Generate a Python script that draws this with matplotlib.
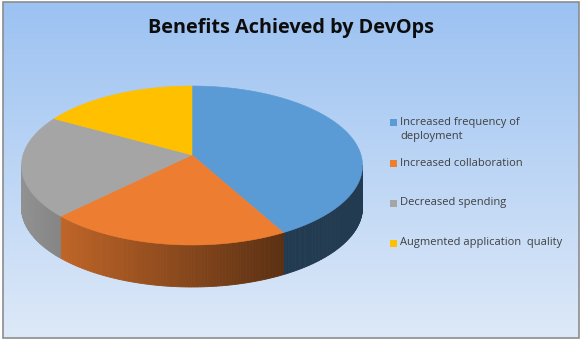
import matplotlib
matplotlib.use("Agg")
import matplotlib.pyplot as plt
import numpy as np
from matplotlib.patches import Polygon, Rectangle
from matplotlib.colors import to_rgb

# data (percent shares)
labels = ["Increased frequency of", "Increased collaboration",
          "Decreased spending", "Augmented application  quality"]
label_extra = ["deployment", "", "", ""]
values = [41, 23, 21, 15]
colors = ["#5B9BD5", "#ED7D31", "#A5A5A5", "#FFC000"]
title = "Benefits Achieved by DevOps"

W, H = 582, 341
fig = plt.figure(figsize=(W / 100, H / 100), dpi=100)
ax = fig.add_axes([0, 0, 1, 1])
ax.set_xlim(0, W)
ax.set_ylim(H, 0)
ax.axis("off")

# background gradient inside the frame
top_c = np.array(to_rgb("#9cc2f2"))
bot_c = np.array(to_rgb("#dde9f8"))
t = np.linspace(0, 1, 256)[:, None]
grad = top_c[None, :] * (1 - t) + bot_c[None, :] * t
ax.imshow(grad[:, None, :], extent=[3, 579, 338, 2], aspect="auto", zorder=0)
ax.add_patch(Rectangle((3, 2), 576, 336, fill=False, ec="#8c8c8c", lw=1.2, zorder=5))

# pie geometry (pixels)
cx, cy = 192, 165.5
rx, ry = 170.5, 79.5
apex_y = 155
depth = 42

def pt(theta, dy=0.0):
    # theta: radians clockwise from 12 o'clock
    return cx + rx * np.sin(theta), cy - ry * np.cos(theta) + dy

def shade(x):
    left = cx - rx
    tt = np.clip((x - left) / (cx + 0.55 * rx - left), 0, 1)
    return 0.88 - 0.5 * tt

fracs = np.array(values, dtype=float) / sum(values)
bounds = np.concatenate([[0], np.cumsum(fracs)]) * 2 * np.pi

# side walls: only front half (pi/2 .. 3pi/2) is visible
for i, col in enumerate(colors):
    a0, a1 = bounds[i], bounds[i + 1]
    lo, hi = max(a0, np.pi / 2), min(a1, 3 * np.pi / 2)
    if hi <= lo:
        continue
    th = np.linspace(lo, hi, 80)
    base = np.array(to_rgb(col))
    for k in range(len(th) - 1):
        x0, y0 = pt(th[k])
        x1, y1 = pt(th[k + 1])
        f = shade((x0 + x1) / 2)
        poly = [(x0, y0), (x1, y1), (x1, y1 + depth), (x0, y0 + depth)]
        ax.add_patch(Polygon(poly, closed=True, fc=base * f, ec=base * f,
                             lw=0.6, zorder=2))

# top faces
for i, col in enumerate(colors):
    th = np.linspace(bounds[i], bounds[i + 1], 120)
    xs, ys = pt(th)
    poly = [(cx, apex_y)] + list(zip(xs, ys))
    ax.add_patch(Polygon(poly, closed=True, fc=col, ec=col, lw=0.4, zorder=3))

# title
ax.text(291.5, 28, title, ha="center", va="center", fontsize=14.3,
        fontweight="bold", family="Open Sans", color="#0d0d0d", zorder=6)

# legend
leg_y = [122, 163, 203, 243]
for lab, extra, col, y in zip(labels, label_extra, colors, leg_y):
    ax.add_patch(Rectangle((390, y - 3.5), 7, 7, fc=col, ec="none", zorder=6))
    ax.text(400, y, lab, ha="left", va="center", fontsize=8,
            family="Open Sans", color="#404040", zorder=6)
    if extra:
        ax.text(400, y + 15, extra, ha="left", va="center", fontsize=8,
                family="Open Sans", color="#404040", zorder=6)

fig.savefig("out.png", dpi=100, facecolor="white")
